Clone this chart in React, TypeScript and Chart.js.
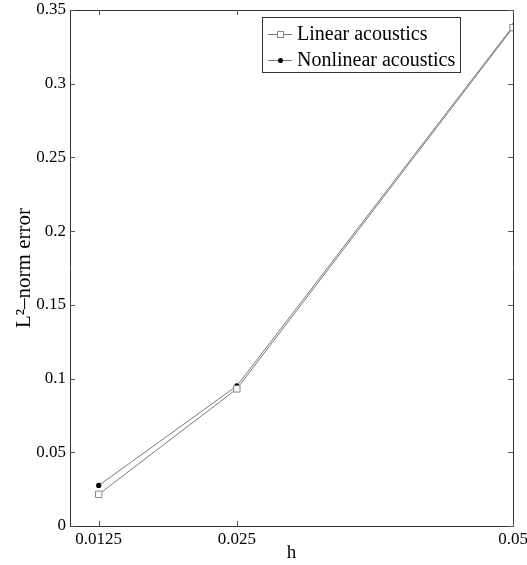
import React, { useEffect, useRef } from "react";
import { Chart, registerables } from "chart.js";

Chart.register(...registerables);

const hValues = [0.0125, 0.025, 0.05];
const linearErr = [0.0215, 0.093, 0.338];
const nonlinearErr = [0.0275, 0.095, 0.339];
const xTicks = [0.0125, 0.025, 0.05];
const yTicks = [0, 0.05, 0.1, 0.15, 0.2, 0.25, 0.3, 0.35];
const seriesLabels = ["Linear acoustics", "Nonlinear acoustics"];

const FONT = "'Liberation Serif', 'DejaVu Serif', serif";

const framePlugin = {
  id: "frame",
  afterDatasetsDraw(chart: any) {
    const { ctx, chartArea } = chart;
    const { left, right, top, bottom } = chartArea;
    const xs = chart.scales.x;
    const ys = chart.scales.y;
    ctx.save();
    ctx.strokeStyle = "#333";
    ctx.lineWidth = 1;
    ctx.beginPath();
    ctx.rect(Math.round(left) + 0.5, Math.round(top) + 0.5, Math.round(right - left), Math.round(bottom - top));
    ctx.stroke();
    ctx.strokeStyle = "#555";
    const tl = 5;
    ctx.beginPath();
    for (const t of xTicks) {
      const px = Math.round(xs.getPixelForValue(t)) + 0.5;
      ctx.moveTo(px, bottom);
      ctx.lineTo(px, bottom - tl);
      ctx.moveTo(px, top);
      ctx.lineTo(px, top + tl);
    }
    for (const t of yTicks) {
      const py = Math.round(ys.getPixelForValue(t)) + 0.5;
      ctx.moveTo(left, py);
      ctx.lineTo(left + tl, py);
      ctx.moveTo(right, py);
      ctx.lineTo(right - tl, py);
    }
    ctx.stroke();
    ctx.restore();
  },
  afterDraw(chart: any) {
    const { ctx } = chart;
    const bx = 262.5, by = 17.5, bw = 198, bh = 55;
    ctx.save();
    ctx.fillStyle = "#fff";
    ctx.fillRect(bx, by, bw, bh);
    ctx.strokeStyle = "#333";
    ctx.lineWidth = 1;
    ctx.strokeRect(bx, by, bw, bh);
    ctx.font = `20px ${FONT}`;
    ctx.textBaseline = "middle";
    ctx.fillStyle = "#000";
    chart.data.datasets.forEach((ds: any, i: number) => {
      const cy = 34 + i * 26;
      ctx.strokeStyle = "#777";
      ctx.beginPath();
      ctx.moveTo(268, cy + 0.5);
      ctx.lineTo(292, cy + 0.5);
      ctx.stroke();
      const mx = 280.5;
      if (i === 0) {
        ctx.fillStyle = "#fff";
        ctx.fillRect(mx - 3, cy - 2.5, 6, 6);
        ctx.strokeStyle = "#888";
        ctx.strokeRect(mx - 3, cy - 2.5, 6, 6);
      } else {
        ctx.fillStyle = "#000";
        ctx.beginPath();
        ctx.arc(mx, cy + 0.5, 2.5, 0, Math.PI * 2);
        ctx.fill();
      }
      ctx.fillStyle = "#000";
      ctx.fillText(ds.label, 297, cy + 1);
    });
    ctx.restore();
  },
};

export default function App() {
  const ref = useRef<HTMLCanvasElement>(null);
  useEffect(() => {
    const chart = new Chart(ref.current!, {
      type: "line",
      data: {
        datasets: [
          {
            label: seriesLabels[0],
            data: hValues.map((h, i) => ({ x: h, y: linearErr[i] })),
            borderColor: "#7a7a7a",
            borderWidth: 1,
            pointStyle: "rect",
            pointRadius: 4.5,
            pointBackgroundColor: "#fff",
            pointBorderColor: "#888",
            pointBorderWidth: 1,
            tension: 0,
          },
          {
            label: seriesLabels[1],
            data: hValues.map((h, i) => ({ x: h, y: nonlinearErr[i] })),
            borderColor: "#7a7a7a",
            borderWidth: 1,
            pointStyle: "circle",
            pointRadius: 2.6,
            pointBackgroundColor: "#000",
            pointBorderColor: "#000",
            pointBorderWidth: 0,
            tension: 0,
          },
        ],
      },
      options: {
        animation: false,
        responsive: false,
        layout: { padding: { top: 10, right: 14, left: 0, bottom: 0 } },
        plugins: { legend: { display: false }, tooltip: { enabled: false } },
        scales: {
          x: {
            type: "linear",
            min: 0.0099,
            max: 0.05,
            afterBuildTicks: (s: any) => {
              s.ticks = xTicks.map((v) => ({ value: v }));
            },
            afterFit: (s: any) => {
              s.height = 39;
              s.paddingLeft = 0;
              s.paddingRight = 0;
            },
            ticks: {
              color: "#000",
              font: { family: FONT, size: 17 },
              padding: 3,
              maxRotation: 0,
              autoSkip: false,
              callback: (v: any) => String(v),
            },
            grid: { display: false, drawTicks: false },
            border: { display: false },
            title: {
              display: true,
              text: "h",
              color: "#000",
              font: { family: FONT, size: 19 },
              padding: { top: 0, bottom: 1 },
            },
          },
          y: {
            type: "linear",
            min: 0,
            max: 0.35,
            afterBuildTicks: (s: any) => {
              s.ticks = yTicks.map((v) => ({ value: v }));
            },
            afterFit: (s: any) => {
              s.width = 70;
              s.paddingTop = 0;
              s.paddingBottom = 0;
            },
            ticks: {
              color: "#000",
              font: { family: FONT, size: 17 },
              padding: 4,
              autoSkip: false,
              callback: (v: any) => String(v),
            },
            grid: { display: false, drawTicks: false },
            border: { display: false },
            title: {
              display: true,
              text: "L²–norm error",
              color: "#000",
              font: { family: FONT, size: 21 },
              padding: { top: 12, bottom: 0 },
            },
          },
        },
      },
      plugins: [framePlugin],
    } as any);
    return () => chart.destroy();
  }, []);
  return (
    <div style={{ position: "fixed", left: 0, top: 0, width: 527, height: 565, background: "#fff" }}>
      <canvas ref={ref} width={527} height={565} style={{ width: 527, height: 565 }} />
    </div>
  );
}
